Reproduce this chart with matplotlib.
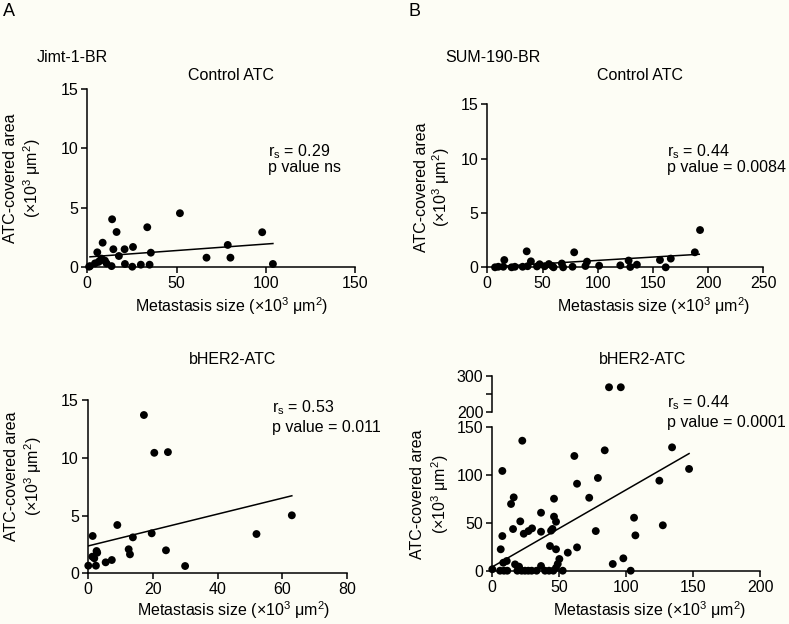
import numpy as np
import matplotlib
matplotlib.use("Agg")
import matplotlib.pyplot as plt

plt.rcParams['font.family'] = ['Liberation Sans', 'DejaVu Sans']
plt.rcParams['mathtext.fontset'] = 'custom'
plt.rcParams['mathtext.rm'] = 'Liberation Sans'
plt.rcParams['mathtext.it'] = 'Liberation Sans'

BG = '#FDFDF5'
FS = 11.5

# ---------------- data ----------------
# Panel A, Jimt-1-BR, Control ATC
a1_x = [13.9, 16.4, 8.6, 5.6, 14.6, 20.9, 25.6, 17.7, 33.6, 35.6, 51.9, 66.8, 78.7, 80.2,
        98.0, 104.0, 1.5, 4.3, 7.1, 9.9, 8.0, 10.8, 13.6, 21.1, 25.2, 30.0, 34.9, 1.0, 6.3]
a1_y = [4.04, 2.97, 2.07, 1.26, 1.52, 1.52, 1.71, 0.95, 3.37, 1.23, 4.55, 0.81, 1.88, 0.81,
        2.95, 0.28, 0.10, 0.33, 0.56, 0.56, 0.73, 0.33, 0.10, 0.28, 0.05, 0.22, 0.22, 0.05, 0.45]
a1_fit_x = [1.5, 104]
a1_fit_y = [0.88, 2.0]

# Panel B, SUM-190-BR, Control ATC
b1_x = [7, 10, 14.5, 15.4, 22, 25, 35.7, 36.5, 39.5, 47.4, 55.8, 58.8, 60, 67.5, 68.7, 77.2,
        78.7, 88.9, 90.3, 101.3, 120.5, 128, 129.5, 135.5, 156.4, 161.6, 166.2, 188, 192.7,
        32, 45, 52]
b1_y = [0.0, 0.05, 0.05, 0.67, 0.0, 0.05, 1.47, 0.1, 0.55, 0.28, 0.3, 0.12, 0.0, 0.35, 0.0, 0.05,
        1.38, 0.12, 0.52, 0.15, 0.18, 0.62, 0.03, 0.24, 0.67, 0.0, 0.8, 1.38, 3.43,
        0.05, 0.08, 0.1]
b1_fit_x = [5, 192]
b1_fit_y = [0.05, 1.2]

# Panel A, bHER2-ATC
a2_x = [17.3, 20.5, 24.7, 62.9, 52.0, 9.1, 19.7, 13.9, 1.5, 12.6, 13.0, 24.1, 2.7, 2.9,
        1.4, 2.0, 7.4, 5.5, 0.15, 2.5, 30.0]
a2_y = [13.7, 10.43, 10.49, 5.02, 3.40, 4.18, 3.46, 3.11, 3.23, 2.08, 1.64, 1.99, 1.93, 1.78,
        1.44, 1.30, 1.15, 0.95, 0.66, 0.66, 0.63]
a2_fit_x = [0, 62.9]
a2_fit_y = [2.36, 6.71]

# Panel B, bHER2-ATC
b2_x = [87.2, 96, 22.4, 134.3, 84, 61.3, 147, 7.5, 78.9, 124.8, 63.3, 72.4, 46.1, 16, 14,
        36.4, 46.1, 47.6, 105.9, 20.9, 15.5, 29.7, 27, 23.5, 36.4, 43.9, 45, 77.3, 127.4,
        106.9, 7.5, 6.3, 43.1, 47.6, 63.3, 56.4, 50.1, 48.9, 97.9, 90, 103.4, 10.8, 8.2, 17,
        20, 0, 5.8, 8.7, 11.2, 18.7, 21.9, 24.4, 26.9, 29.4, 33.1, 36.4, 39.4, 42.4, 45.6,
        47.6, 52.6]
b2_y = [269, 269, 135.4, 128.5, 125.4, 119.5, 106, 103.9, 96.6, 93.8, 90.6, 76, 75, 76.4,
        69.5, 60.4, 56.3, 51, 55.2, 51.4, 43.4, 44.1, 41.3, 38.5, 40.6, 41.7, 43.5, 41.3, 47.3,
        36.8, 36.1, 22.3, 25.7, 22.3, 24.3, 18.8, 12.2, 7, 12.9, 7, 0, 10.1, 8.3, 6.6, 4.2,
        1.5, 0, 0, 0, 0, 0, 0, 0, 0, 0, 4.9, 0, 0, 0, 3, 0]
b2_fit_x = [0, 147]
b2_fit_y = [4, 122]

W, H = 789, 624
fig = plt.figure(figsize=(W / 100, H / 100), dpi=100, facecolor=BG)


def px_axes(left, right, top, bottom):
    return fig.add_axes([left / W, 1 - bottom / H, (right - left) / W, (bottom - top) / H])


def style(ax, xlim, ylim, xticks, yticks, bottom=True):
    ax.set_facecolor('none')
    for s in ['top', 'right']:
        ax.spines[s].set_visible(False)
    ax.spines['left'].set_linewidth(1.1)
    ax.spines['bottom'].set_linewidth(1.1)
    ax.set_xlim(*xlim)
    ax.set_ylim(*ylim)
    ax.set_xticks(xticks)
    ax.set_yticks(yticks)
    ax.tick_params(direction='out', length=4, width=1.1, labelsize=FS, pad=2.5, color='black')
    if not bottom:
        ax.spines['bottom'].set_visible(False)
        ax.set_xticks([])


def scatter(ax, x, y):
    ax.scatter(x, y, s=32, color='black', edgecolors='none', clip_on=False, zorder=3)


def fpx(x, y, s, **kw):
    kw.setdefault('fontsize', FS)
    fig.text(x / W, 1 - y / H, s, **kw)


# A top
ax = px_axes(87.3, 355, 89, 267.3)
style(ax, (0, 150), (0, 15), [0, 50, 100, 150], [0, 5, 10, 15])
scatter(ax, a1_x, a1_y)
ax.plot(a1_fit_x, a1_fit_y, color='black', lw=1.1)

# B top
ax = px_axes(487.3, 763.3, 104.3, 267.3)
style(ax, (0, 250), (0, 15), [0, 50, 100, 150, 200, 250], [0, 5, 10, 15])
scatter(ax, b1_x, b1_y)
ax.plot(b1_fit_x, b1_fit_y, color='black', lw=1.1)

# A bottom
ax = px_axes(87.8, 347.3, 400, 573.3)
style(ax, (0, 80), (0, 15), [0, 20, 40, 60, 80], [0, 5, 10, 15])
scatter(ax, a2_x, a2_y)
ax.plot(a2_fit_x, a2_fit_y, color='black', lw=1.1)

# B bottom (broken axis)
bx = np.array(b2_x)
by = np.array(b2_y)
low = by <= 150
ax = px_axes(492.3, 760, 426.7, 570.7)
style(ax, (0, 200), (0, 150), [0, 50, 100, 150, 200], [0, 50, 100, 150])
scatter(ax, bx[low], by[low])
ax.plot(b2_fit_x, b2_fit_y, color='black', lw=1.1)

axu = px_axes(492.3, 760, 376, 412.3)
style(axu, (0, 200), (200, 300), [], [200, 250, 300], bottom=False)
axu.set_yticklabels(['200', '', '300'])
scatter(axu, bx[~low], by[~low])

# panel letters and headings
fpx(3, 11, 'A', fontsize=13, va='center', ha='left')
fpx(408, 11, 'B', fontsize=13, va='center', ha='left')
fpx(37, 57, 'Jimt-1-BR', va='center', ha='left')
fpx(445, 57, 'SUM-190-BR', va='center', ha='left')
fpx(231, 76, 'Control ATC', va='center', ha='center')
fpx(640, 76, 'Control ATC', va='center', ha='center')
fpx(233, 360, 'bHER2-ATC', va='center', ha='center')
fpx(643, 360, 'bHER2-ATC', va='center', ha='center')

# statistics
fpx(268, 156.7, r'r$_\mathrm{s}$ = 0.29', va='baseline', ha='left')
fpx(268, 172, 'p value ns', va='baseline', ha='left')
fpx(667, 156.7, r'r$_\mathrm{s}$ = 0.44', va='baseline', ha='left')
fpx(667, 172, 'p value = 0.0084', va='baseline', ha='left')
fpx(272, 412, r'r$_\mathrm{s}$ = 0.53', va='baseline', ha='left')
fpx(272, 432, 'p value = 0.011', va='baseline', ha='left')
fpx(667, 407.7, r'r$_\mathrm{s}$ = 0.44', va='baseline', ha='left')
fpx(667, 426.7, 'p value = 0.0001', va='baseline', ha='left')

# axis labels
YL1 = 'ATC-covered area'
YL2 = r'(×10$^\mathrm{3}$ μm$^\mathrm{2}$)'
XL = r'Metastasis size (×10$^\mathrm{3}$ μm$^\mathrm{2}$)'
for (x1, x2, yc) in [(11, 32, 178), (421, 441, 187), (12, 33, 476), (418, 440, 494)]:
    fpx(x1, yc, YL1, rotation=90, va='center', ha='center')
    fpx(x2, yc, YL2, rotation=90, va='center', ha='center')
for (xc, yc) in [(232, 306), (654, 306), (234, 610), (650, 610)]:
    fpx(xc, yc, XL, va='center', ha='center')

fig.savefig('out.png', dpi=100, facecolor=BG)
